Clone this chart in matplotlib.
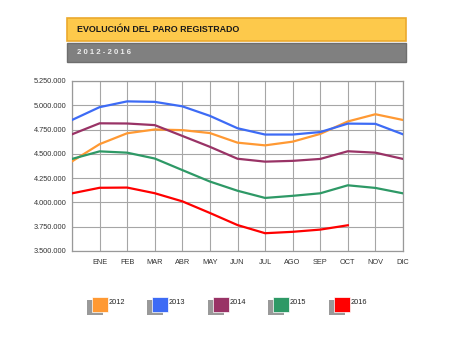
import matplotlib
matplotlib.use("Agg")
import matplotlib.pyplot as plt
from matplotlib.patches import Rectangle
from matplotlib.ticker import FuncFormatter, FixedLocator

# Registered unemployment, previous December followed by Jan..Dec
months = ["", "ENE", "FEB", "MAR", "ABR", "MAY", "JUN", "JUL", "AGO", "SEP", "OCT", "NOV", "DIC"]
paro_2012 = [4422359, 4599829, 4712098, 4750867, 4744235, 4714122, 4615269, 4587455,
             4625634, 4705279, 4833521, 4907817, 4848723]
paro_2013 = [4848723, 4980778, 5040222, 5035243, 4989193, 4890928, 4763680, 4698814,
             4698783, 4724355, 4811383, 4808908, 4701338]
paro_2014 = [4701338, 4814435, 4812486, 4795866, 4684635, 4572385, 4449701, 4419860,
             4427930, 4447650, 4526804, 4512153, 4447711]
paro_2015 = [4447711, 4525691, 4512153, 4451939, 4333016, 4215031, 4120304, 4046276,
             4067955, 4094042, 4176369, 4149298, 4093508]
paro_2016 = [4093508, 4150710, 4152986, 4094770, 4011171, 3891403, 3767054, 3683061,
             3697496, 3720297, 3764982]
series_labels = ["2012", "2013", "2014", "2015", "2016"]
y_ticks = [3500000, 3750000, 4000000, 4250000, 4500000, 4750000, 5000000, 5250000]

colors = ["#FF9933", "#3D6BF5", "#993366", "#2E9966", "#FF0000"]
series = [paro_2012, paro_2013, paro_2014, paro_2015, paro_2016]

W, H = 450, 348
fig = plt.figure(figsize=(W / 100, H / 100), dpi=100)
plt.rcParams["font.family"] = ["Liberation Sans", "DejaVu Sans"]

def fx(px):
    return px / W

def fy(py):
    return 1 - py / H

# Header bands
fig.add_artist(Rectangle((fx(67), fy(41)), fx(406) - fx(67), fy(18) - fy(41),
                         transform=fig.transFigure, facecolor="#FDC94B",
                         edgecolor="#EBA92C", linewidth=1.2))
fig.add_artist(Rectangle((fx(67), fy(62)), fx(406) - fx(67), fy(43) - fy(62),
                         transform=fig.transFigure, facecolor="#808080",
                         edgecolor="#6E6E6E", linewidth=1.0))
fig.text(fx(77), fy(29.5), "EVOLUCIÓN DEL PARO REGISTRADO", fontsize=6.4,
         fontweight="bold", color="#1A1A1A", va="center", ha="left")
fig.text(fx(77), fy(52.5), "2 0 1 2 - 2 0 1 6", fontsize=5.6,
         fontweight="bold", color="#EEEEEE", va="center", ha="left")

# Plot area
ax = fig.add_axes([fx(72), fy(251), fx(403) - fx(72), fy(81) - fy(251)])
x = list(range(len(months)))
for vals, c in zip(series, colors):
    ax.plot(x[:len(vals)], vals, color=c, linewidth=1.6, solid_joinstyle="round", zorder=3)

ax.set_xlim(0, len(months) - 1)
ax.set_ylim(y_ticks[0], y_ticks[-1])
ax.xaxis.set_major_locator(FixedLocator(x))
ax.set_xticklabels(months)
ax.yaxis.set_major_locator(FixedLocator(y_ticks))
ax.yaxis.set_major_formatter(FuncFormatter(lambda v, p: f"{int(v):,}".replace(",", ".")))
ax.grid(True, color="#A6A6A6", linewidth=0.8, zorder=0)
ax.tick_params(length=0, labelsize=5.3, colors="#333333", pad=4)
ax.tick_params(axis="x", pad=6)
for s in ax.spines.values():
    s.set_color("#999999")
    s.set_linewidth(0.9)

# Legend with shadowed swatches
sq_x = [92, 152, 213, 273, 334]
for px, c, lab in zip(sq_x, colors, series_labels):
    fig.add_artist(Rectangle((fx(px - 5), fy(315)), fx(16), fy(300) - fy(315),
                             transform=fig.transFigure, facecolor="#999999",
                             edgecolor="none"))
    fig.add_artist(Rectangle((fx(px), fy(312)), fx(16), fy(297) - fy(312),
                             transform=fig.transFigure, facecolor=c,
                             edgecolor="white", linewidth=0.5))
    fig.text(fx(px + 17), fy(303), lab, fontsize=5.3, color="#222222",
             va="center", ha="left")

fig.savefig("out.png", dpi=100)
